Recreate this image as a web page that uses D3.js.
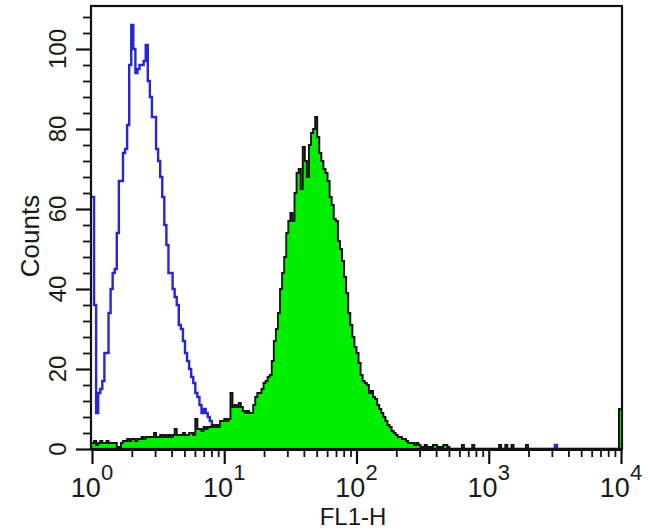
<!DOCTYPE html>
<html><head><meta charset="utf-8">
<script src="https://cdn.jsdelivr.net/npm/d3@7"></script>
<style>body{margin:0;background:#fff}svg{display:block}</style>
</head><body><svg id="c" width="650" height="531"></svg>
<script>
// ---- data (256 log channels over 4 decades) ----
const nChannels = 256;
// blue (control) histogram, channels 0..66; other channels 0
const blueCounts = [63,36,9,14,15,17,24,24,34,40,44,45,54,67,67,74,75,81,96,106,
  100,94,95,96,96,97,101,92,88,83,83,75,72,68,63,56,51,44,44,40,
  38,36,31,30,27,24,22,20,18,16.5,14,13,11,9,10,9,8,7,5.5,5,
  4,3,3,2,2,1,1];
const blueTailChannels = [224];
const blueTailCounts = [1];
// green (stained) histogram, channels 0..172
const greenCounts = [1.5,2,1,1.5,2,1.5,1.5,2,1.5,1.5,
  1.5,1.5,0.5,0.5,1.5,2,2,2.5,2,2.5,
  2.5,2,2.5,2.5,3,2.5,3,3,3,3,
  4,3,3,3.5,3,3.5,3,3.5,3,3.5,
  5,3.5,3.5,3.5,4,3.5,3.5,4,4,3.5,
  7.5,5,5,4.5,5.5,5,5.5,5.5,6,5.5,
  6,5.5,7,7,7.5,7,7.5,14,10.5,11,
  10.5,11.5,10.5,9.5,9,9.5,9,9,11,13,
  14,14,15,16.5,17,18,18.5,22,27,30,
  34,40,44,48,54,57,59,57,64,69,
  70,65,75.5,72,68,76,79,80,83,78,
  74,72,70,69,67,63,61,57.5,57,52,
  50,47,43,39,34,31,28,25.5,24,21.5,
  18.5,17,16.5,16,14,14.5,13,12.5,11,10,
  9,8,7,6,5.5,4.5,4,3.5,3,3,
  2.5,2.5,2,1.5,1.5,1.5,1,1.5,1,0.5,
  0.5,1,0.5,0.5,0.5,1,1,0.5,0.5,0.5,
  1,1,0.5];
const greenTailChannels = [179,184,197,200,203,210,255];
const greenTailCounts = [1,1,1,1,1,1,10];

const yMajorTicks = [0,20,40,60,80,100];
const yMinorTicks = [4,8,12,16,24,28,32,36,44,48,52,56,64,68,72,76,84,88,92,96,104,108];
const xMajorTicks = [1,10,100,1000,10000];
const xExponents = ["0","1","2","3","4"];
const xLabel = "FL1-H";
const yLabel = "Counts";

// ---- layout ----
const L = 92, R = 621, B = 449;
const svg = d3.select("#c");
const x = d3.scaleLog().domain([1,1e4]).range([L,R]);
const y = d3.scaleLinear().domain([0,100]).range([B,49]);
const yTop = 110.75;
const chToLog = d3.scaleLinear().domain([0,nChannels]).range([0,4]);
const edge = c => Math.pow(10, chToLog(c));

function expand(counts, tailCh, tailV){
  const a = new Array(nChannels).fill(0);
  counts.forEach((v,i)=>a[i]=v);
  tailCh.forEach((c,i)=>a[c]=tailV[i]);
  const pts = a.map((v,i)=>[edge(i), v]);
  pts.push([edge(nChannels), a[nChannels-1]]);
  return pts;
}
const bluePts = expand(blueCounts, blueTailChannels, blueTailCounts);
const greenPts = expand(greenCounts, greenTailChannels, greenTailCounts);

svg.append("defs").append("clipPath").attr("id","clip")
  .append("rect").attr("x",L).attr("y",y(yTop)).attr("width",R-L+1).attr("height",B-y(yTop));

const plot = svg.append("g").attr("clip-path","url(#clip)");
const line = d3.line().x(d=>x(d[0])).y(d=>y(d[1])).curve(d3.curveStepAfter);
const area = d3.area().x(d=>x(d[0])).y0(y(0)).y1(d=>y(d[1])).curve(d3.curveStepAfter);

plot.append("path").attr("d", line(bluePts)).attr("fill","none")
  .attr("stroke","#2626d6").attr("stroke-width",2.4);
plot.append("path").attr("d", area(greenPts)).attr("fill","#00f000");
plot.append("path").attr("d", line(greenPts)).attr("fill","none")
  .attr("stroke","#111").attr("stroke-width",1.9);

// frame
svg.append("rect").attr("x",L-1).attr("y",y(yTop)).attr("width",R-L+2).attr("height",B-y(yTop))
  .attr("fill","none").attr("stroke","#111").attr("stroke-width",2.2);
svg.append("line").attr("x1",L-1).attr("x2",R+1).attr("y1",B+0.5).attr("y2",B+0.5)
  .attr("stroke","#111").attr("stroke-width",3);

// y axis ticks
const yAxMaj = d3.axisLeft(y).tickValues(yMajorTicks).tickSize(15).tickFormat("");
const yAxMin = d3.axisLeft(y).tickValues(yMinorTicks).tickSize(8).tickFormat("");
[yAxMaj,yAxMin].forEach((ax,i)=>{
  const g = svg.append("g").attr("transform",`translate(${L-1},0)`).call(ax);
  g.select(".domain").remove();
  g.selectAll("line").attr("stroke","#111").attr("stroke-width", i?1.8:2.2);
});
// x axis ticks
const xMinor = x.ticks().filter(v=>!xMajorTicks.includes(v));
const xAxMaj = d3.axisBottom(x).tickValues(xMajorTicks).tickSize(15).tickFormat("");
const xAxMin = d3.axisBottom(x).tickValues(xMinor).tickSize(8).tickFormat("");
[xAxMaj,xAxMin].forEach((ax,i)=>{
  const g = svg.append("g").attr("transform",`translate(0,${B})`).call(ax);
  g.select(".domain").remove();
  g.selectAll("line").attr("stroke","#111").attr("stroke-width", i?1.8:2.2);
});

const font = "'Liberation Sans', Arial, sans-serif";
// y labels
svg.selectAll("text.yl").data(yMajorTicks).enter().append("text")
  .attr("transform",d=>`translate(66,${y(d)}) rotate(-90)`)
  .attr("text-anchor","middle").attr("font-family",font).attr("font-size",24)
  .attr("fill","#1a1a1a").text(d=>d);
// x labels
const xl = svg.selectAll("text.xl").data(xMajorTicks).enter().append("text")
  .attr("x",d=>x(d)).attr("y",497).attr("text-anchor","middle")
  .attr("font-family",font).attr("font-size",27).attr("fill","#1a1a1a");
xl.append("tspan").text("10");
xl.append("tspan").attr("dy",-17).attr("font-size",22).text((d,i)=>xExponents[i]);

svg.append("text").attr("x",353).attr("y",525).attr("text-anchor","middle")
  .attr("font-family",font).attr("font-size",24).attr("fill","#1a1a1a").text(xLabel);
svg.append("text").attr("transform","translate(39,236) rotate(-90)").attr("text-anchor","middle")
  .attr("font-family",font).attr("font-size",26).attr("fill","#1a1a1a").text(yLabel);
</script></body></html>
